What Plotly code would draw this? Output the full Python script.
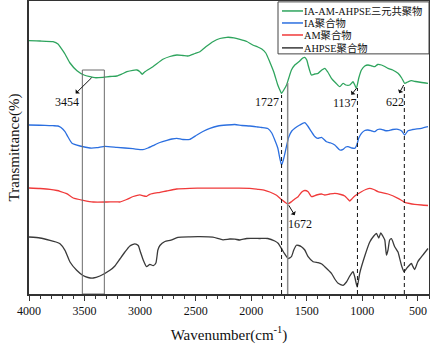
import plotly.graph_objects as go

# ---- data (wavenumber in cm^-1, transmittance in arbitrary offset units) ----
wn_green = [4000, 3901, 3784, 3739, 3721, 3676, 3631, 3568, 3505, 3451, 3406, 3334, 3272, 3209, 3164, 3119,
            3065, 3029, 3002, 2981, 2957, 2885, 2795, 2732, 2669, 2615, 2570, 2507, 2462, 2399, 2345, 2282,
            2219, 2156, 2102, 2040, 1986, 1941, 1905, 1869, 1833, 1797, 1761, 1738, 1727, 1707, 1682, 1662,
            1638, 1608, 1563, 1536, 1518, 1500, 1488, 1458, 1428, 1398, 1365, 1338, 1311, 1278, 1239, 1203,
            1173, 1149, 1113, 1084, 1068, 1053, 1032, 1008, 978, 949, 915, 888, 861, 828, 798, 769, 727,
            679, 646, 619, 592, 558, 520, 466, 409]
t_green = [253.3, 253, 252.3, 250, 247.3, 240, 231, 223.3, 219, 217.3, 216.3, 216.7, 217.5, 218, 220, 222.3,
           223.7, 224, 222.3, 219.7, 222.3, 227.3, 234.7, 237.5, 239, 238.5, 238, 240.5, 242.3, 248, 252.3, 255.5,
           256.7, 256.2, 254.7, 252.5, 249, 247, 245, 241, 232, 222, 209, 203, 200.7, 204, 209, 216,
           224, 229, 233, 236, 236.7, 234, 229, 219, 220, 220.7, 224, 225.7, 222, 215.7, 211, 207.3,
           210.7, 209, 209, 212.3, 209, 205.7, 216, 224, 228, 229, 228, 227.3, 229.5, 229, 227.5, 225.7, 224,
           220.7, 216, 210.7, 212, 213.3, 212.5, 211.5, 210.7]

wn_blue = [4000, 3856, 3784, 3739, 3712, 3676, 3649, 3613, 3541, 3451, 3389, 3317, 3209, 3065, 2975, 2930,
           2885, 2822, 2759, 2714, 2669, 2615, 2552, 2489, 2435, 2372, 2300, 2219, 2147, 2084, 2013, 1941,
           1905, 1851, 1815, 1788, 1761, 1743, 1727, 1711, 1698, 1680, 1662, 1635, 1608, 1563, 1518, 1491,
           1458, 1428, 1401, 1368, 1323, 1284, 1248, 1203, 1173, 1149, 1128, 1095, 1068, 1050, 1032, 1008,
           978, 949, 915, 888, 861, 828, 798, 769, 727, 679, 646, 619, 589, 547, 468, 409]
t_blue = [169, 168.7, 168.3, 168, 166.5, 162.3, 157, 150.7, 148, 146, 146.3, 147.7, 146.7, 145.3, 144.3, 146,
          148.3, 151.5, 153.7, 155, 155.7, 154.5, 154.7, 159, 162.5, 165.7, 168, 169, 169.5, 168.5, 168, 167,
          166.5, 165.5, 161, 154, 146, 136, 129, 134, 140, 149, 157, 163, 165.7, 169, 171.3, 168,
          162.3, 157.5, 155.7, 156.7, 152.3, 151, 149, 144, 144.7, 147, 147.3, 146, 145.7, 149, 156, 160.7,
          163.5, 164, 163, 162.3, 164.5, 164.7, 163.5, 163.3, 164.5, 164.7, 163, 159, 163.3, 164.5, 165.7, 167.3]

wn_red = [4000, 3901, 3811, 3748, 3721, 3661, 3602, 3512, 3422, 3301, 3211, 3182, 3121, 3062, 3002, 2966,
          2942, 2912, 2822, 2762, 2672, 2552, 2462, 2327, 2165, 2013, 1941, 1878, 1833, 1772, 1727, 1682,
          1662, 1638, 1608, 1578, 1545, 1518, 1488, 1458, 1413, 1368, 1338, 1293, 1248, 1194, 1158, 1131,
          1113, 1095, 1068, 1008, 969, 933, 897, 859, 769, 679, 619, 574, 529, 466, 409]
t_red = [106, 105.5, 104.7, 103.5, 102.7, 100.3, 96, 93.7, 92, 92, 92.2, 92, 94.5, 97.5, 99.2, 98,
         97.7, 99.7, 101.7, 103, 105, 105.7, 105.8, 105.9, 105.8, 105.7, 104.7, 103.7, 102, 98.7, 94.5, 90.7,
         90.5, 92.3, 95, 97.3, 102, 103.5, 102.3, 97.3, 99, 100, 99, 100, 100.7, 99.5, 98, 95,
         93, 95, 98, 102.3, 104.5, 105.7, 104.5, 102.3, 100, 95.7, 91.7, 90.5, 89.7, 89, 88.5]

wn_black = [4000, 3901, 3811, 3757, 3721, 3676, 3631, 3571, 3514, 3469, 3422, 3362, 3272, 3227, 3182, 3137,
            3092, 3047, 3017, 2997, 2972, 2942, 2912, 2882, 2858, 2840, 2822, 2777, 2723, 2660, 2552, 2462,
            2345, 2255, 2192, 2147, 2102, 2040, 1923, 1851, 1788, 1758, 1727, 1707, 1668, 1638, 1617, 1593,
            1572, 1548, 1518, 1488, 1443, 1398, 1365, 1338, 1278, 1248, 1218, 1173, 1143, 1113, 1084, 1068,
            1046, 1023, 978, 933, 897, 873, 852, 834, 816, 798, 783, 769, 754, 738, 709, 679, 664, 646,
            625, 603, 589, 558, 547, 529, 502, 484, 448, 409]
t_black = [57, 56, 53.7, 52, 50.3, 43.7, 32, 23.7, 18.5, 16.5, 16, 18, 23.7, 28, 35, 42,
           48, 50.2, 48.5, 42, 34, 27.3, 29.7, 28.3, 31, 44, 48.5, 52.5, 53.8, 56.7, 57.2, 57.3,
           56.8, 54.2, 55, 54.8, 54, 55.5, 55.5, 55.5, 53, 50.7, 45.3, 41.5, 35.5, 37.3, 44, 48.7,
           48.5, 47.3, 44, 37.3, 32.3, 31.3, 30, 27.3, 20.7, 15, 10.7, 8.7, 12, 18, 22.3, 17,
           7, 21, 38, 52, 58, 60.5, 56, 61.2, 58, 54, 39, 44, 54, 55.3, 47.3, 42, 35.7, 28,
           22.3, 25.3, 27.3, 30.5, 28, 24.5, 32, 35, 40, 45.5]

series_names = ["IA-AM-AHPSE三元共聚物", "IA聚合物", "AM聚合物", "AHPSE聚合物"]
series_colors = ["#2ea45d", "#2b6fe0", "#f03a3a", "#3a3a3a"]

peak_labels = ["3454", "1727", "1137", "622", "1672"]
label_pos = [(3658, 192), (1862, 192.3), (1158, 190.7), (709, 192.3), (1563, 70.3)]
# curve point each label's arrow leaves from (None = no arrow)
arrow_tails = [(3436, 216.3), None, (1053, 205.7), (628, 209), (1662, 88.7)]

dashed_peaks = [1727, 1044, 622]
dashed_tops = [199, 206, 209]
solid_peak = 1672
solid_top = 211
box_x = [3520, 3322]
box_top = 224

FONT = "Liberation Serif, Times New Roman, Noto Sans CJK SC, serif"

fig = go.Figure()
for wn, t, nm, col in zip([wn_green, wn_blue, wn_red, wn_black],
                          [t_green, t_blue, t_red, t_black], series_names, series_colors):
    fig.add_trace(go.Scatter(x=wn, y=t, mode="lines", name=nm,
                             line=dict(color=col, width=1.3, shape="spline", smoothing=0.5),
                             showlegend=False))

shapes = []
shapes.append(dict(type="rect", xref="x", yref="y", x0=box_x[0], x1=box_x[1], y0=0, y1=box_top,
                   line=dict(color="#6b6b6b", width=1), fillcolor="rgba(0,0,0,0)"))
for xp, yt in zip(dashed_peaks, dashed_tops):
    shapes.append(dict(type="line", xref="x", yref="y", x0=xp, x1=xp, y0=0, y1=yt,
                       line=dict(color="#111111", width=1, dash="4px,3px")))
shapes.append(dict(type="line", xref="x", yref="y", x0=solid_peak, x1=solid_peak, y0=0, y1=solid_top,
                   line=dict(color="#8a8a8a", width=1.5)))

# manual legend (box + line samples)
leg_rows = [0.966, 0.925, 0.884, 0.840]
shapes.append(dict(type="rect", xref="paper", yref="paper", x0=0.6225, x1=1.0, y0=0.8195, y1=0.997,
                   line=dict(color="#444444", width=1), fillcolor="white"))
annotations = []
for yv, nm, col in zip(leg_rows, series_names, series_colors):
    shapes.append(dict(type="line", xref="paper", yref="paper", x0=0.6325, x1=0.685, y0=yv, y1=yv,
                       line=dict(color=col, width=1.5)))
    annotations.append(dict(xref="paper", yref="paper", x=0.683, y=yv, text=nm, showarrow=False,
                            xanchor="left", yanchor="middle",
                            font=dict(family=FONT, size=10.3, color="#111111")))

for txt, (lx, ly), tail in zip(peak_labels, label_pos, arrow_tails):
    if tail is None:
        annotations.append(dict(xref="x", yref="y", x=lx, y=ly, text=txt, showarrow=False,
                                font=dict(family=FONT, size=12, color="#111111")))
    else:
        annotations.append(dict(xref="x", yref="y", x=tail[0], y=tail[1], ax=lx, ay=ly,
                                axref="x", ayref="y", text=txt, showarrow=True,
                                arrowside="start", arrowhead=2, arrowsize=1.1, arrowwidth=1,
                                arrowcolor="#111111", standoff=0, startstandoff=0,
                                font=dict(family=FONT, size=12, color="#111111")))

fig.update_layout(
    width=430, height=344,
    margin=dict(l=29, r=1, t=1, b=50, autoexpand=False),
    paper_bgcolor="white", plot_bgcolor="white",
    font=dict(family=FONT, size=12, color="#111111"),
    shapes=shapes, annotations=annotations,
    showlegend=False,
)
fig.update_xaxes(
    range=[4000, 400], autorange=False, automargin=False,
    tickmode="array", tickvals=[4000, 3500, 3000, 2500, 2000, 1500, 1000, 500],
    ticktext=["4000", "3500", "3000", "2500", "2000", "1500", "1000", "500"],
    ticks="outside", ticklen=5, tickwidth=1, tickcolor="#333333",
    minor=dict(tickmode="linear", tick0=0, dtick=100, ticks="outside", ticklen=3, tickwidth=1, tickcolor="#333333"),
    showline=True, linecolor="#333333", linewidth=1.5, mirror=True,
    showgrid=False, zeroline=False,
    tickfont=dict(family=FONT, size=12),
    title=dict(text="Wavenumber(cm<sup>-1</sup>)", font=dict(family=FONT, size=15), standoff=12),
)
fig.update_yaxes(
    range=[0, 293], autorange=False, automargin=False,
    showticklabels=False, ticks="",
    showline=True, linecolor="#333333", linewidth=1.5, mirror=True,
    showgrid=False, zeroline=False,
    title=dict(text="Transmittance(%)", font=dict(family=FONT, size=15), standoff=4),
)

fig.write_html("out.html", config={"displayModeBar": False},
               post_script="document.body.style.margin='0';document.body.style.padding='0';")
